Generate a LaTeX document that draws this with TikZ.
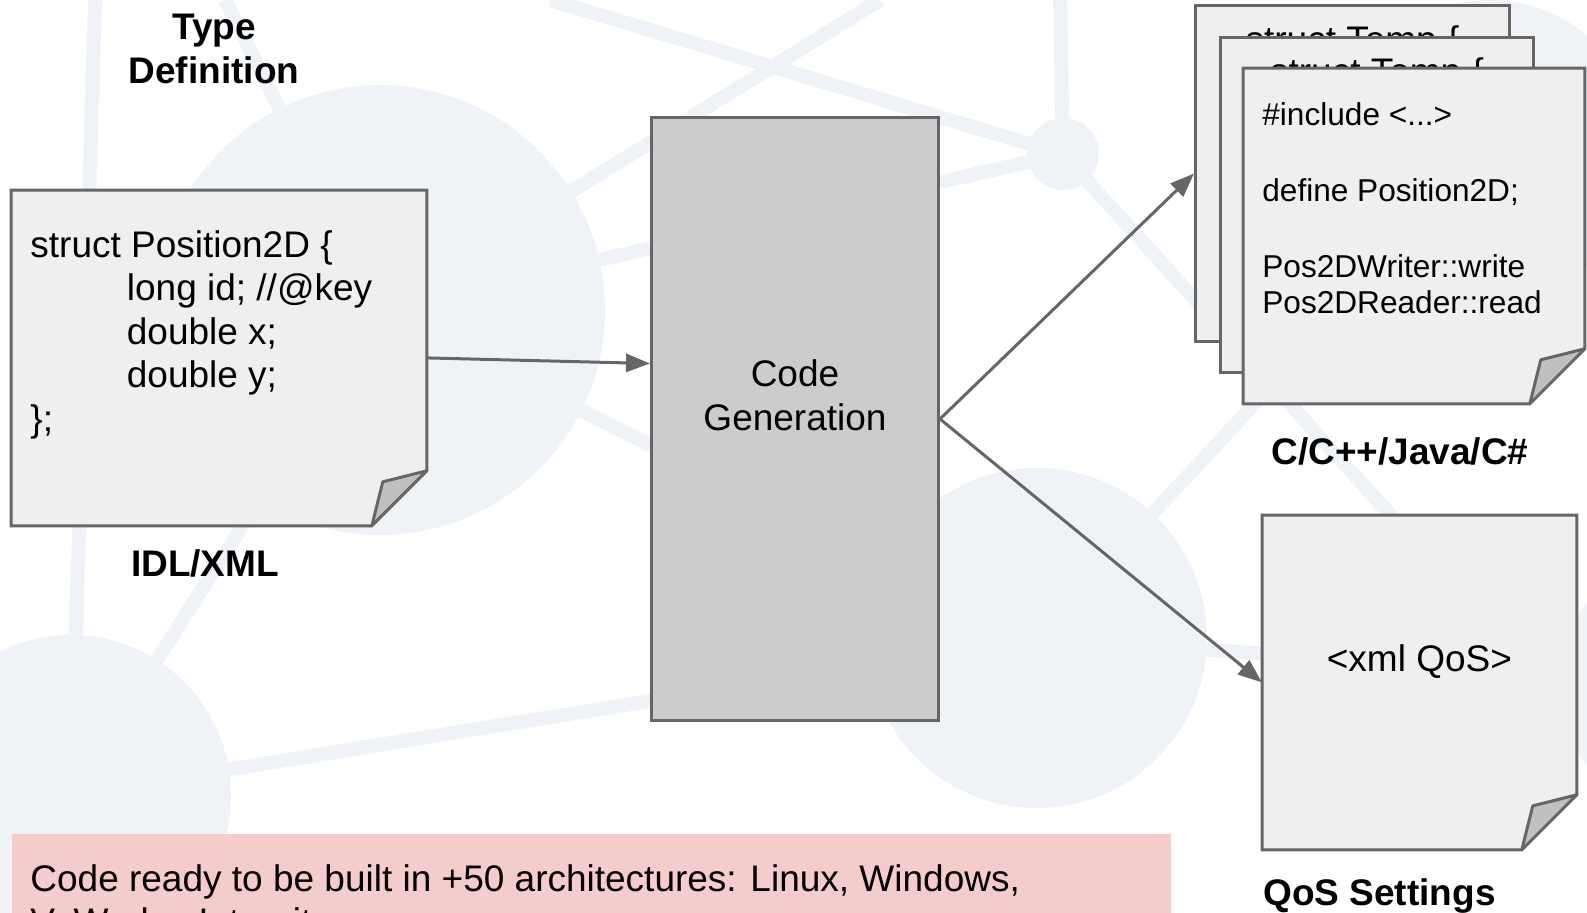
\documentclass[tikz,border=0pt]{standalone}
\usepackage{fontspec}
\setmainfont{Liberation Sans}
\usetikzlibrary{arrows.meta,positioning}

\definecolor{docfill}{HTML}{EFEFEF}
\definecolor{docedge}{HTML}{666666}
\definecolor{genfill}{HTML}{CCCCCC}
\definecolor{foldfill}{HTML}{C0C0C0}
\definecolor{notefill}{HTML}{F4CCCC}
\definecolor{netblue}{RGB}{239,243,248}

\tikzset{
  paper/.style={rectangle, inner sep=0pt, anchor=north west},
  sheet/.style={paper, fill=docfill, draw=docedge, line width=1.5pt},
  docline/.style={fill=docfill, draw=docedge, line width=1.5pt, line join=miter},
  fold/.style={fill=foldfill, draw=docedge, line width=1.5pt, line join=round},
  gen/.style={paper, fill=genfill, draw=docedge, line width=1.5pt,
    minimum width=143.5pt, minimum height=301.5pt},
  note/.style={paper, fill=notefill, minimum width=579.5pt, minimum height=60pt},
  codetext/.style={inner sep=0pt, align=left, font=\fontsize{18.5pt}{21.75pt}\selectfont},
  smalltext/.style={inner sep=0pt, align=left, font=\fontsize{15.8pt}{18pt}\selectfont},
  title/.style={inner sep=0pt, align=center, font=\fontsize{18.5pt}{22pt}\selectfont\bfseries},
  flow/.style={draw=docedge, line width=1.5pt, -{Triangle[length=12pt, width=9pt]}},
  netline/.style={draw=netblue, line width=7pt}
}

\begin{document}
\begin{tikzpicture}[x=0.5pt, y=-0.5pt]
    \useasboundingbox (0,0) rectangle (1587,912);
    \clip (0,0) rectangle (1587,912);

    % background network
    \coordinate (hubA) at (380,310);
    \coordinate (hubB) at (71,795);
    \coordinate (hubC) at (1063,154);
    \coordinate (hubD) at (1037,638);
    \coordinate (hubE) at (1490,150);
    \coordinate (hubF) at (1700,684);
    \coordinate (endA) at (95,0);
    \coordinate (endB) at (225,0);
    \coordinate (endC) at (880,0);
    \coordinate (endD) at (550,0);
    \coordinate (endE) at (1060,0);
    \coordinate (endF) at (1640,790);
    \foreach \a/\b in {endA/hubB, endB/hubA, hubA/endC, hubA/hubC, hubA/hubD, hubB/hubA,
                       hubB/hubD, endD/hubC, endE/hubC, hubC/endF, hubD/hubE, hubD/hubF}
        \draw[netline] (\a) -- (\b);
    \foreach \h/\r in {hubA/225, hubB/160, hubC/36, hubD/170, hubE/150, hubF/140}
        \fill[netblue] (\h) circle[radius=\r];

    % boxes
    \node[paper, minimum width=207.5pt, minimum height=167.5pt] (idl) at (11,190) {};
    \node[gen] (code) at (650,116) {};
    \node[sheet, minimum width=157pt, minimum height=168pt] (tempA) at (1194,4) {};
    \node[codetext, anchor=base] (tempAtext) at ([yshift=-24pt]tempA.north) {struct Temp \{};
    \node[sheet, minimum width=156.5pt, minimum height=167.5pt] (tempB) at (1219,36) {};
    \node[codetext, anchor=base] (tempBtext) at ([yshift=-24pt]tempB.north) {struct Temp \{};
    \node[paper, minimum width=170.5pt, minimum height=167.5pt] (lang) at (1243,68) {};
    \node[paper, minimum width=157pt, minimum height=167pt] (qos) at (1262,515) {};
    \node[note] (note) at (12,834) {};

    % pages with a folded corner
    \foreach \d in {idl, lang, qos} {
        \filldraw[docline] (\d.north west) -- (\d.north east) -- ([yshift=27.5pt]\d.south east)
            -- ([xshift=-27.5pt]\d.south east) -- (\d.south west) -- cycle;
        \filldraw[fold] ([xshift=-27.5pt]\d.south east) -- ([xshift=-22pt, yshift=22pt]\d.south east)
            -- ([yshift=27.5pt]\d.south east) -- cycle;
    }

    % texts (base = last line)
    \node[codetext, anchor=base west] (idltext) at ([xshift=9.5pt, yshift=-120.5pt]idl.north west)
        {struct Position2D \{\\
         \hspace*{48.25pt}long id; //@key\\
         \hspace*{48.25pt}double x;\\
         \hspace*{48.25pt}double y;\\
         \};};
    \node[codetext, align=center, anchor=base] (codetext) at ([yshift=-157pt]code.north) {Code\\Generation};
    \node[smalltext, anchor=base west] (langtext) at ([xshift=9.5pt, yshift=-122.5pt]lang.north west)
        {\#include <...>\\[20pt]
         define Position2D;\\[20pt]
         Pos2DWriter::write\\
         Pos2DReader::read};
    \node[codetext, anchor=base] (qostext) at ([yshift=-78pt]qos.north) {<xml QoS>};
    \node[codetext, anchor=base west] (notetext) at (30,934.5)
        {Code ready to be built in +50 architectures: Linux, Windows,\\VxWorks, Integrity};

    % labels
    \node[title, anchor=base] (typedef) at (214,83) {Type\\Definition};
    \node[title, anchor=base] (idllabel) at (205,576) {IDL/XML};
    \node[title, anchor=base] (langlabel) at (1400,464) {C/C++/Java/C\#};
    \node[title, anchor=base west] (qoslabel) at (1263,905) {QoS Settings};

    % arrows
    \draw[flow] (idl.east) -- ([yshift=27.75pt]code.west);
    \draw[flow] (code.east) -- (tempA.west);
    \draw[flow] (code.east) -- (qos.west);
\end{tikzpicture}
\end{document}
